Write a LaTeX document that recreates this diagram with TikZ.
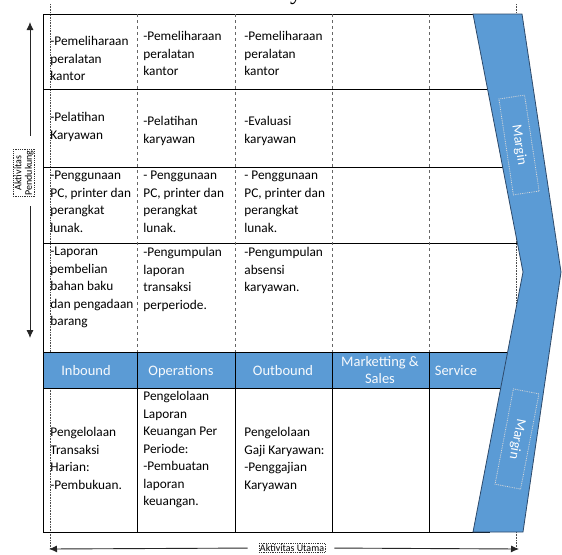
\documentclass[tikz,border=0pt]{standalone}
\usepackage{fontspec}
\setmainfont{Carlito}
\newfontfamily\titlefont{Liberation Serif}
\usepackage{tikz}
\usetikzlibrary{arrows.meta}

\definecolor{chainblue}{HTML}{5B9BD5}
\definecolor{chainedge}{HTML}{2E4A6B}

\tikzset{
  cell/.style={anchor=north west, inner sep=0pt, align=left,
    font=\fontsize{13.3}{17.5}\selectfont},
  bandtext/.style={text=white!95!chainblue, align=center, inner sep=0pt,
    font=\fontsize{14.5}{17}\selectfont},
  bandone/.style={bandtext, text height=0.72em, text depth=0.22em},
  colsep/.style={black!60, line width=0.9pt, dash pattern=on 3pt off 3pt},
  guide/.style={black!70, line width=0.6pt, densely dotted},
  tag/.style={draw=black!80, densely dotted, fill=white, inner sep=1pt,
    align=center, font=\fontsize{10}{10.5}\selectfont},
  axis/.style={black!85, line width=0.9pt, -{Latex[length=8pt,width=7pt]}},
  marginbox/.style={draw=white!70!gray, densely dotted, text=white,
    minimum width=97pt, minimum height=26pt, inner sep=0pt,
    font=\fontsize{14}{14}\selectfont},
}

\begin{document}
\begin{tikzpicture}[x=1pt, y=-1pt, line width=0.8pt]

    % Page frame (pixel units, y running downward)
    \useasboundingbox (0,0) rectangle (562,554);

    % Grid parameters
    \def\colA{43}  \def\colB{137} \def\colC{235} \def\colD{332} \def\colE{429}
    \def\rowA{14}  \def\rowB{89}  \def\rowC{167} \def\rowD{243}
    \def\bandtop{352} \def\bandbot{388} \def\rowend{532}

    % Cut-off title above the chart
    \node[font=\fontsize{24}{24}\titlefont, anchor=base, inner sep=0pt] (title) at (296,-1) {y};

    % Dotted guides marking the span of the two arrows
    \draw[guide] (50,4) -- (50,549);
    \draw[guide] (516,4) -- (516,549);

    % Blue band with the primary activities
    \fill[chainblue] (\colA,\bandtop) rectangle (520,\bandbot);

    % Horizontal rules of the table
    \draw (\colA,\rowA) -- (490,\rowA);
    \foreach \y in {\rowB,\rowC,\rowD,\bandtop,\bandbot}
        \draw (\colA,\y) -- (530,\y);
    \draw (\colA,\rowend) -- (490,\rowend);
    \draw (\colA,\rowA) -- (\colA,\rowend);

    % Column separators: dashed above the band, solid below
    \foreach \x in {\colB,\colC,\colD,\colE} {
        \draw[colsep] (\x,\rowA) -- (\x,\bandtop);
        \draw (\x,\bandtop) -- (\x,\rowend);
    }

    % Margin chevron
    \filldraw[fill=chainblue, draw=chainedge, line width=0.8pt]
        (473,\rowA) -- (522,\rowA) -- (561,272) -- (523,\rowend)
        -- (473,\rowend) -- (523,272) -- cycle;
    \node[marginbox, rotate=-81.4] (marginup) at (519,145) {Margin};
    \node[marginbox, rotate=-100.9] (margindown) at (517,439) {Margin};

    % Support activities
    \node[cell] (maintA) at (50,36)  {-Pemeliharaan\\peralatan\\kantor};
    \node[cell] (maintB) at (143,31) {-Pemeliharaan\\peralatan\\kantor};
    \node[cell] (maintC) at (244,31) {-Pemeliharaan\\peralatan\\kantor};

    \node[cell] (trainA) at (50,112)  {-Pelatihan\\Karyawan};
    \node[cell] (trainB) at (143,116) {-Pelatihan\\karyawan};
    \node[cell] (trainC) at (244,116) {-Evaluasi\\karyawan};

    \node[cell] (techA) at (50,171)  {-Penggunaan\\PC, printer dan\\perangkat\\lunak.};
    \node[cell] (techB) at (143,171) {- Penggunaan\\PC, printer dan\\perangkat\\lunak.};
    \node[cell] (techC) at (244,171) {- Penggunaan\\PC, printer dan\\perangkat\\lunak.};

    \node[cell] (reportA) at (50,247)  {-Laporan\\pembelian\\bahan baku\\dan pengadaan\\barang};
    \node[cell] (reportB) at (143,247) {-Pengumpulan\\laporan\\transaksi\\perperiode.};
    \node[cell] (reportC) at (244,247) {-Pengumpulan\\absensi\\karyawan.};

    % Band headings
    \node[bandone] (inbound) at (86,373) {Inbound};
    \node[bandone] (operations) at (181,373) {Operations};
    \node[bandone] (outbound) at (283,373) {Outbound};
    \node[bandtext] (marketing) at (380,370) {Marketting \&\\Sales};
    \node[bandone] (service) at (456,373) {Service};

    % Primary activities
    \node[cell] (dailyA) at (50,427)  {Pengelolaan\\Transaksi\\Harian:\\-Pembukuan.};
    \node[cell] (financeB) at (143,391) {Pengelolaan\\Laporan\\Keuangan Per\\Periode:\\-Pembuatan\\laporan\\keuangan.};
    \node[cell] (payrollC) at (244,427) {Pengelolaan\\Gaji Karyawan:\\-Penggajian\\Karyawan};

    % Axis arrows with their tags
    \coordinate (suptop) at (30,22);
    \coordinate (supbot) at (30,338);
    \node[tag, rotate=90] (pendukung) at (24,173) {Aktivitas\\Pendukung};
    \draw[axis, shorten <=13pt] (pendukung.east -| suptop) -- (suptop);
    \draw[axis, shorten <=9pt] (pendukung.west -| supbot) -- (supbot);

    \coordinate (mainleft) at (49,549);
    \coordinate (mainright) at (519,549);
    \node[tag] (utama) at (292,548) {Aktivitas Utama};
    \draw[axis, shorten <=11pt] (utama.west) -- (mainleft);
    \draw[axis, shorten <=9pt] (utama.east) -- (mainright);

\end{tikzpicture}
\end{document}
